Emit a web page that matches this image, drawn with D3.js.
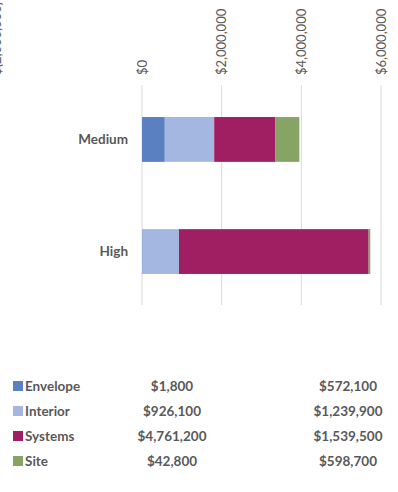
<!DOCTYPE html>
<html>
<head>
<meta charset="utf-8">
<script src="https://cdn.jsdelivr.net/npm/d3@7"></script>
<style>
  body { margin: 0; background: #fff; }
  svg { display: block; }
</style>
</head>
<body>
<div id="chart"></div>
<script>
// data
const categories = ['Medium', 'High']
const seriesNames = ['Envelope', 'Interior', 'Systems', 'Site']
const mediumValues = [572100, 1239900, 1539500, 598700]
const highValues = [1800, 926100, 4761200, 42800]
const tickValues = [0, 2000000, 4000000, 6000000]
const colors = ['#5a80c1', '#a3b7e0', '#a01f63', '#87a464']

const w = 398, h = 492
const font = 'Lato, "Open Sans", sans-serif'
const textColor = '#595959'

const svg = d3.select('#chart').append('svg')
  .attr('width', w)
  .attr('height', h)
  .style('font-family', font)

const x = d3.scaleLinear().domain([0, 6000000]).range([142, 381])
const y = d3.scaleBand().domain(categories).range([89, 302]).paddingInner(0.6).paddingOuter(0.25)

// gridlines
svg.append('g').selectAll('line').data(tickValues).enter().append('line')
  .attr('x1', d => x(d)).attr('x2', d => x(d))
  .attr('y1', 85).attr('y2', 305)
  .attr('stroke', '#d9d9d9')
  .attr('stroke-width', 1)

// tick labels, rotated
const fmt = d => '$' + d3.format(',')(d)
svg.append('g').selectAll('text').data(tickValues).enter().append('text')
  .attr('transform', d => `translate(${x(d) + 4.5}, 75) rotate(-90)`)
  .attr('text-anchor', 'start')
  .attr('font-size', '13px')
  .attr('fill', textColor)
  .text(fmt)

// axis text clipped at the far left edge (as in the source)
svg.append('text')
  .attr('transform', 'translate(1, 75) rotate(-90)')
  .attr('font-size', '13px')
  .attr('fill', textColor)
  .text('$(2,000,000)')

// stacked bars
const rows = categories.map((c, i) => {
  const vals = i === 0 ? mediumValues : highValues
  const r = { cat: c }
  seriesNames.forEach((s, j) => { r[s] = vals[j] })
  return r
})
const stacked = d3.stack().keys(seriesNames)(rows)

svg.append('g').selectAll('g').data(stacked).enter().append('g')
  .attr('fill', (d, i) => colors[i])
  .selectAll('rect').data(d => d).enter().append('rect')
  .attr('x', d => x(d[0]))
  .attr('y', d => y(d.data.cat))
  .attr('width', d => Math.max(x(d[1]) - x(d[0]), 0.8))
  .attr('height', y.bandwidth())

// category labels
svg.append('g').selectAll('text').data(categories).enter().append('text')
  .attr('x', 128)
  .attr('y', d => y(d) + y.bandwidth() / 2 + 4.5)
  .attr('text-anchor', 'end')
  .attr('font-size', '13.5px')
  .attr('font-weight', 'bold')
  .attr('fill', textColor)
  .text(d => d)

// data table
const table = svg.append('g').attr('transform', 'translate(0, 386)')
const rowH = 25
const trs = table.selectAll('g').data(seriesNames).enter().append('g')
  .attr('transform', (d, i) => `translate(0, ${i * rowH})`)

trs.append('rect')
  .attr('x', 13).attr('y', -5)
  .attr('width', 10).attr('height', 10)
  .attr('fill', (d, i) => colors[i])

const cell = sel => sel
  .attr('y', 5)
  .attr('font-size', '13.5px')
  .attr('font-weight', 'bold')
  .attr('fill', textColor)

trs.append('text').call(cell)
  .attr('x', 25)
  .text(d => d)

trs.append('text').call(cell)
  .attr('x', 172)
  .attr('text-anchor', 'middle')
  .text((d, i) => fmt(highValues[i]))

trs.append('text').call(cell)
  .attr('x', 348)
  .attr('text-anchor', 'middle')
  .text((d, i) => fmt(mediumValues[i]))
</script>
</body>
</html>
